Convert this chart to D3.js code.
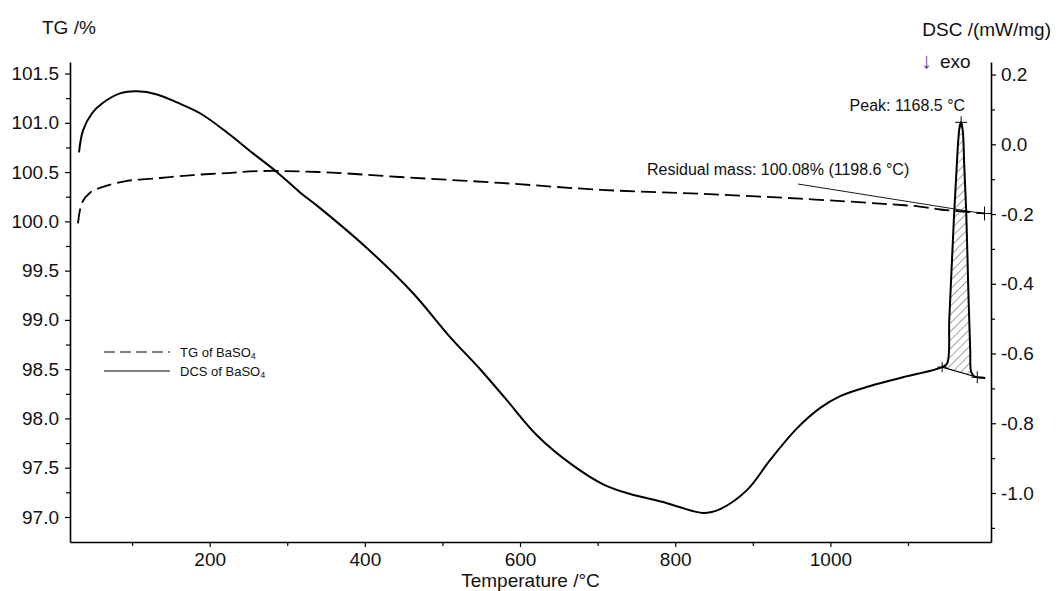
<!DOCTYPE html>
<html>
<head>
<meta charset="utf-8">
<script src="https://cdn.jsdelivr.net/npm/d3@7/dist/d3.min.js"></script>
<style>
  html, body { margin: 0; padding: 0; background: #fff; }
  svg { display: block; font-family: "Liberation Sans", Arial, sans-serif; }
</style>
</head>
<body>
<svg id="chart" width="1061" height="591"></svg>
<script>
// ---- data ----
const dscT = [31.6, 36.8, 48.4, 61.3, 84.5, 106.4, 132.2, 157.9, 187.6, 222.4, 255.9, 286.9, 316.5, 342.3,
  402.9, 462.2, 509.9, 548.6, 580.8, 622.0, 664.6, 707.1, 741.9, 784.5, 806.4, 836.0, 857.9,
  892.8, 922.4, 957.2, 986.9, 1012.6, 1051.3, 1090.0, 1144.1, 1150.6, 1153.2, 1157.0, 1159.6, 1162.2,
  1164.8, 1166.7, 1168.5, 1170.6, 1172.5, 1175.1, 1177.6, 1180.2, 1181.5, 1185.4, 1189.3, 1199.6];
const dscV = [-0.023, 0.040, 0.089, 0.117, 0.146, 0.152, 0.143, 0.120, 0.089, 0.034, -0.026, -0.080, -0.138, -0.183,
  -0.298, -0.427, -0.553, -0.645, -0.728, -0.835, -0.915, -0.975, -1.003, -1.026, -1.041, -1.057, -1.046,
  -0.991, -0.905, -0.814, -0.756, -0.722, -0.693, -0.670, -0.639, -0.628, -0.504, -0.318, -0.195, -0.089,
  0.011, 0.052, 0.063, 0.040, -0.060, -0.195, -0.404, -0.590, -0.653, -0.665, -0.668, -0.670];

const tgT = [30.3, 35.5, 45.8, 62.5, 93.5, 136.0, 178.6, 222.4, 264.9, 342.3, 445.4, 574.3, 703.3, 832.2,
  961.1, 1064.2, 1115.0, 1141.6, 1170.0, 1198.6];
const tgV = [99.98, 100.19, 100.29, 100.35, 100.41, 100.44, 100.47, 100.49, 100.51, 100.50, 100.45, 100.39, 100.32, 100.28,
  100.23, 100.18, 100.15, 100.12, 100.10, 100.08];

const xMajor = [200, 400, 600, 800, 1000];
const xMinor = [100, 300, 500, 700, 900, 1100];
const tgMajor = [97.0, 97.5, 98.0, 98.5, 99.0, 99.5, 100.0, 100.5, 101.0, 101.5];
const tgMinor = [97.25, 97.75, 98.25, 98.75, 99.25, 99.75, 100.25, 100.75, 101.25];
const dscMajor = [0.2, 0.0, -0.2, -0.4, -0.6, -0.8, -1.0];
const dscMinor = [0.1, -0.1, -0.3, -0.5, -0.7, -0.9, -1.1];

const peakT = 1168.5, peakV = 0.063;
const residT = 1198.6, residV = 100.08;
const intStart = [1144.1, -0.639], intEnd = [1189.3, -0.668];

const legendLabels = ["TG of BaSO", "DCS of BaSO"];

// ---- layout ----
const svg = d3.select("#chart");
const L = 70, R = 991, T = 62, B = 542;

const x = d3.scaleLinear().domain([20, 1207]).range([L, R]);
const yL = d3.scaleLinear().domain([96.746, 101.617]).range([B, T]);
const yR = d3.scaleLinear().domain([-1.1405, 0.236]).range([B, T]);

const FS = 19;

function styleAxis(g) {
  g.selectAll("path.domain").attr("stroke", "#000").attr("stroke-width", 1.6);
  g.selectAll(".tick line").attr("stroke", "#000").attr("stroke-width", 1.2);
  g.selectAll(".tick text").attr("font-size", FS).attr("fill", "#111")
    .attr("font-family", '"Liberation Sans", Arial, sans-serif');
}

// bottom axis
const gx = svg.append("g").attr("transform", `translate(0,${B})`)
  .call(d3.axisBottom(x).tickValues(xMajor).tickFormat(d3.format("d")).tickSize(5).tickSizeOuter(0).tickPadding(6));
styleAxis(gx);
svg.append("g").attr("transform", `translate(0,${B})`)
  .call(d3.axisBottom(x).tickValues(xMinor).tickFormat("").tickSize(4).tickSizeOuter(0))
  .call(g => { g.select("path.domain").remove(); g.selectAll(".tick line").attr("stroke", "#000").attr("stroke-width", 1.2); });

// left axis
const gl = svg.append("g").attr("transform", `translate(${L},0)`)
  .call(d3.axisLeft(yL).tickValues(tgMajor).tickFormat(d3.format(".1f")).tickSize(5).tickSizeOuter(0).tickPadding(6));
styleAxis(gl);
svg.append("g").attr("transform", `translate(${L},0)`)
  .call(d3.axisLeft(yL).tickValues(tgMinor).tickFormat("").tickSize(4).tickSizeOuter(0))
  .call(g => { g.select("path.domain").remove(); g.selectAll(".tick line").attr("stroke", "#000").attr("stroke-width", 1.2); });

// right axis
const gr = svg.append("g").attr("transform", `translate(${R},0)`)
  .call(d3.axisRight(yR).tickValues(dscMajor).tickFormat(d3.format(".1f")).tickSize(5).tickSizeOuter(0).tickPadding(5));
styleAxis(gr);
gr.selectAll(".tick text").text(d => d3.format(".1f")(d).replace("−", "-"));
svg.append("g").attr("transform", `translate(${R},0)`)
  .call(d3.axisRight(yR).tickValues(dscMinor).tickFormat("").tickSize(4).tickSizeOuter(0))
  .call(g => { g.select("path.domain").remove(); g.selectAll(".tick line").attr("stroke", "#000").attr("stroke-width", 1.2); });

// titles
svg.append("text").attr("x", 42).attr("y", 34).attr("font-size", FS).attr("fill", "#111").text("TG /%");
svg.append("text").attr("x", 1051).attr("y", 36).attr("font-size", FS).attr("fill", "#111")
  .attr("text-anchor", "end").text("DSC /(mW/mg)");
svg.append("text").attr("x", 921).attr("y", 68).attr("font-size", 22).attr("fill", "#5b3f8c").text("↓");
svg.append("text").attr("x", 940).attr("y", 68).attr("font-size", FS).attr("fill", "#111").text("exo");
svg.append("text").attr("x", (L + R) / 2).attr("y", 587).attr("font-size", FS).attr("fill", "#111")
  .attr("text-anchor", "middle").text("Temperature /°C");

// hatch pattern
const defs = svg.append("defs");
const pat = defs.append("pattern").attr("id", "hatch").attr("patternUnits", "userSpaceOnUse")
  .attr("width", 6).attr("height", 6).attr("patternTransform", "rotate(45)");
pat.append("line").attr("x1", 0).attr("y1", 0).attr("x2", 0).attr("y2", 6)
  .attr("stroke", "#333").attr("stroke-width", 0.9);

// hatched area between peak and integration baseline
const dsc = dscT.map((t, i) => [t, dscV[i]]);
const peakPts = dsc.filter(d => d[0] >= intStart[0] && d[0] <= intEnd[0]);
const lineGen = d3.line().x(d => x(d[0])).y(d => yR(d[1]));
const areaPts = peakPts.concat([intEnd, intStart]);
svg.append("path").attr("d", lineGen(areaPts) + "Z").attr("fill", "url(#hatch)").attr("stroke", "none");
// baseline
svg.append("line").attr("x1", x(intStart[0])).attr("y1", yR(intStart[1]))
  .attr("x2", x(intEnd[0])).attr("y2", yR(intEnd[1])).attr("stroke", "#000").attr("stroke-width", 1.2);

// DSC curve
const smooth = d3.line().x(d => x(d[0])).y(d => yR(d[1])).curve(d3.curveCatmullRom.alpha(0.5));
svg.append("path").attr("d", smooth(dsc)).attr("fill", "none").attr("stroke", "#000")
  .attr("stroke-width", 2).attr("stroke-linejoin", "round");

// TG curve
const tg = tgT.map((t, i) => [t, tgV[i]]);
const smoothTG = d3.line().x(d => x(d[0])).y(d => yL(d[1])).curve(d3.curveCatmullRom.alpha(0.5));
svg.append("path").attr("d", smoothTG(tg)).attr("fill", "none").attr("stroke", "#000")
  .attr("stroke-width", 1.8).attr("stroke-dasharray", "15,6");

// cross markers
function cross(cx, cy, s) {
  svg.append("path").attr("d", `M${cx - s},${cy}H${cx + s}M${cx},${cy - s}V${cy + s}`)
    .attr("stroke", "#000").attr("stroke-width", 1);
}
cross(x(peakT), yR(peakV), 6);
cross(x(residT), yL(residV), 7);
cross(x(intStart[0]), yR(intStart[1]), 5);
cross(x(intEnd[0]), yR(intEnd[1]), 6);

// annotations
svg.append("text").attr("x", x(peakT) + 4).attr("y", yR(peakV) - 11).attr("font-size", 16)
  .attr("fill", "#111").attr("text-anchor", "end").text("Peak: 1168.5 °C");
svg.append("text").attr("x", 647).attr("y", 175).attr("font-size", 16).attr("fill", "#111")
  .text("Residual mass: 100.08% (1198.6 °C)");
svg.append("line").attr("x1", 798).attr("y1", 184).attr("x2", x(residT) - 8).attr("y2", yL(residV) - 1)
  .attr("stroke", "#000").attr("stroke-width", 0.9);

// legend
const lg = svg.append("g");
const legY = [352, 371];
lg.append("line").attr("x1", 104).attr("x2", 170).attr("y1", legY[0]).attr("y2", legY[0])
  .attr("stroke", "#000").attr("stroke-width", 1.2).attr("stroke-dasharray", "11,5");
lg.append("line").attr("x1", 104).attr("x2", 170).attr("y1", legY[1]).attr("y2", legY[1])
  .attr("stroke", "#000").attr("stroke-width", 1.2);
legendLabels.forEach((lab, i) => {
  const t = lg.append("text").attr("x", 180).attr("y", legY[i] + 5).attr("font-size", 13).attr("fill", "#111");
  t.append("tspan").text(lab);
  t.append("tspan").attr("font-size", 9).attr("dy", 2).text("4");
});
</script>
</body>
</html>
